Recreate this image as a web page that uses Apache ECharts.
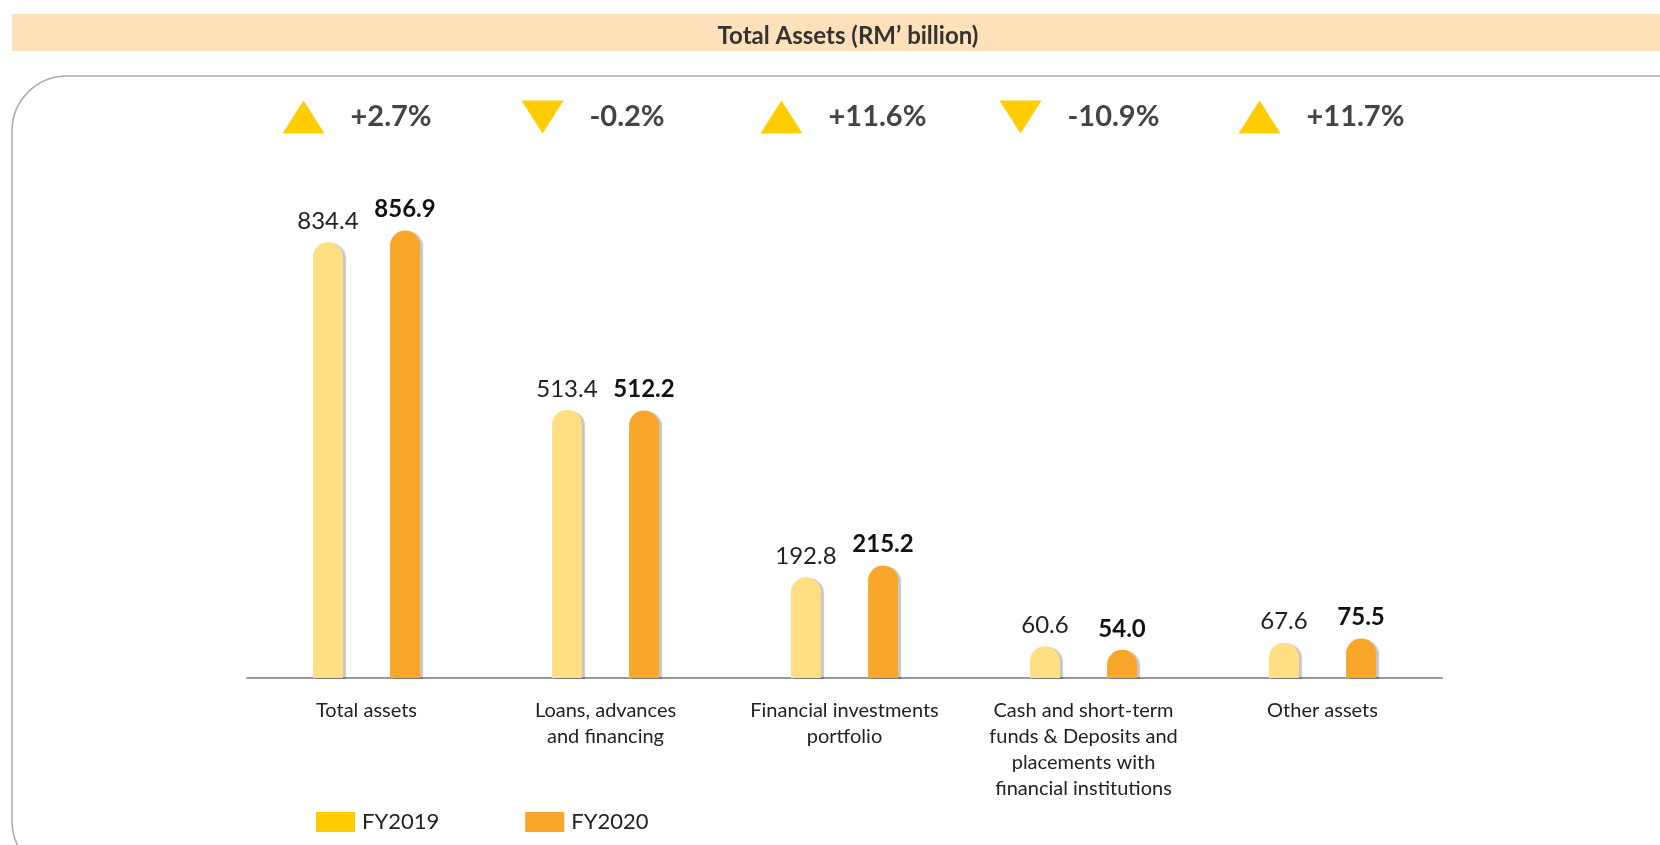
<!DOCTYPE html>
<html>
<head>
<meta charset="utf-8">
<script src="https://cdn.jsdelivr.net/npm/echarts@6/dist/echarts.min.js"></script>
<style>
  html, body { margin: 0; padding: 0; background: #fff; }
  #main { width: 1660px; height: 845px; }
</style>
</head>
<body>
<div id="main"></div>
<script>
  // data
  var categories = ['Total assets', 'Loans, advances\nand financing', 'Financial investments\nportfolio',
    'Cash and short-term\nfunds & Deposits and\nplacements with\nfinancial institutions', 'Other assets']
  var fy2019 = [834.4, 513.4, 192.8, 60.6, 67.6]
  var fy2020 = [856.9, 512.2, 215.2, 54.0, 75.5]
  var changes = ['+2.7%', '-0.2%', '+11.6%', '-10.9%', '+11.7%']

  var font = 'Lato, "Noto Sans", sans-serif'
  var barShadow = {
    shadowColor: 'rgba(0, 0, 0, 0.22)',
    shadowOffsetX: 3,
    shadowOffsetY: 1,
    shadowBlur: 1
  }

  var myChart = echarts.init(document.getElementById('main'))
  myChart.setOption({
    textStyle: { fontFamily: font },
    animation: false,
    title: {
      text: 'Total Assets (RM\u2019 billion)',
      left: 843,
      top: 19,
      textAlign: 'center',
      textStyle: { fontSize: 24, fontWeight: 'bold', color: '#333', fontFamily: font }
    },
    graphic: [{
      type: 'rect',
      z: -10,
      shape: { x: 12, y: 14, width: 1660, height: 37 },
      style: { fill: '#FEE0BA' }
    }, {
      type: 'rect',
      z: -10,
      shape: { x: 12, y: 76, width: 1700, height: 800, r: 55 },
      style: { fill: '#fff', stroke: '#aaa', lineWidth: 1.5 }
    }],
    legend: {
      left: 311,
      top: 806,
      itemWidth: 39,
      itemHeight: 20,
      itemGap: 86,
      icon: 'rect',
      textStyle: { fontSize: 22, color: '#222', fontFamily: font, padding: [0, 0, 0, 2] },
      data: [
        { name: 'FY2019', itemStyle: { color: '#FFCC00', shadowColor: 'transparent', borderRadius: 0 } },
        { name: 'FY2020', itemStyle: { color: '#F9A62A', shadowColor: 'transparent', borderRadius: 0 } }
      ]
    },
    grid: [
      { left: 247, width: 1195, top: 208, bottom: 167 },
      { left: 184, width: 1195, top: 101, height: 32 }
    ],
    xAxis: [{
      type: 'category',
      gridIndex: 0,
      data: categories,
      axisLine: { lineStyle: { color: '#999', width: 2 } },
      axisTick: { show: false },
      axisLabel: {
        interval: 0,
        margin: 20,
        fontSize: 20,
        lineHeight: 26,
        color: '#222',
        align: 'center',
        verticalAlign: 'top'
      }
    }, {
      type: 'category',
      gridIndex: 1,
      data: categories,
      show: false
    }],
    yAxis: [{
      type: 'value',
      gridIndex: 0,
      min: 0,
      max: 900,
      show: false
    }, {
      type: 'value',
      gridIndex: 1,
      min: 0,
      max: 1,
      show: false
    }],
    series: [{
      name: 'FY2019',
      type: 'bar',
      data: fy2019,
      barWidth: 30,
      barGap: '157%',
      itemStyle: Object.assign({ color: '#FFDF82', borderRadius: [15, 15, 0, 0] }, barShadow),
      label: {
        show: true,
        position: 'top',
        distance: 9,
        fontSize: 24,
        color: '#222',
        formatter: function (p) { return p.value.toFixed(1) }
      }
    }, {
      name: 'FY2020',
      type: 'bar',
      data: fy2020,
      barWidth: 30,
      itemStyle: Object.assign({ color: '#F9A72B', borderRadius: [15, 15, 0, 0] }, barShadow),
      label: {
        show: true,
        position: 'top',
        distance: 9,
        fontSize: 24,
        fontWeight: 'bold',
        color: '#111',
        formatter: function (p) { return p.value.toFixed(1) }
      }
    }, {
      name: 'change',
      type: 'scatter',
      xAxisIndex: 1,
      yAxisIndex: 1,
      symbol: 'triangle',
      symbolSize: [42, 33],
      itemStyle: { color: '#FFCC00', opacity: 1 },
      data: changes.map(function (c, i) {
        return { value: [i, 0.5], name: c, symbolRotate: c.charAt(0) === '-' ? 180 : 0 }
      }),
      label: {
        show: true,
        position: 'right',
        distance: 26,
        fontSize: 29,
        fontWeight: 'bold',
        color: '#444',
        formatter: function (p) { return p.name }
      }
    }]
  })
  window.addEventListener('resize', function () {
    myChart.resize()
  })
</script>
</body>
</html>
